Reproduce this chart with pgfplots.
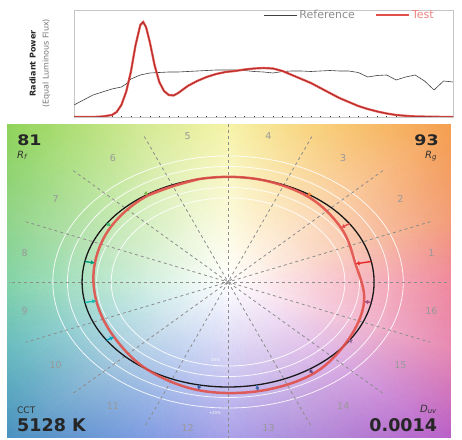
\documentclass[border=0pt]{standalone}
\usepackage{fontspec}
\setmainfont{DejaVu Sans}
\usepackage{pgfplots}
\pgfplotsset{compat=1.18}
\usetikzlibrary{arrows.meta}
\definecolor{testred}{HTML}{E2504A}
\definecolor{testcore}{HTML}{9A2020}
\definecolor{b1}{HTML}{E62828}
\definecolor{b2}{HTML}{E74B4B}
\definecolor{b3}{HTML}{FB812E}
\definecolor{b4}{HTML}{FFB529}
\definecolor{b5}{HTML}{CBCA46}
\definecolor{b6}{HTML}{7EB94C}
\definecolor{b7}{HTML}{41C06D}
\definecolor{b8}{HTML}{009C7C}
\definecolor{b9}{HTML}{16BCB0}
\definecolor{b10}{HTML}{00A4BF}
\definecolor{b11}{HTML}{0085C3}
\definecolor{b12}{HTML}{3B62AA}
\definecolor{b13}{HTML}{4568AE}
\definecolor{b14}{HTML}{6A4E85}
\definecolor{b15}{HTML}{9D69A1}
\definecolor{b16}{HTML}{A74F81}

\pgfplotstableread{
lam v
380 0.12
390 0.17
400 0.22
410 0.25
420 0.28
430 0.30
435 0.33
440 0.38
450 0.42
460 0.44
470 0.445
480 0.45
490 0.45
500 0.455
510 0.46
520 0.465
530 0.47
540 0.47
550 0.47
560 0.465
570 0.455
580 0.45
590 0.44
600 0.455
610 0.46
620 0.46
630 0.455
640 0.46
650 0.465
660 0.46
670 0.46
680 0.445
690 0.40
700 0.415
710 0.42
720 0.37
730 0.40
740 0.42
750 0.36
760 0.27
770 0.36
780 0.35
}\refspd

\pgfplotstableread{
lam v
380 0
400 0
410 0.005
420 0.02
425 0.05
430 0.12
435 0.25
440 0.45
445 0.72
450 0.92
453 0.95
456 0.90
460 0.75
465 0.52
470 0.35
475 0.26
480 0.22
485 0.215
490 0.24
500 0.31
510 0.36
520 0.40
530 0.43
540 0.45
550 0.46
560 0.475
570 0.485
580 0.49
590 0.485
600 0.46
610 0.42
620 0.38
630 0.34
640 0.29
650 0.24
660 0.19
670 0.15
680 0.11
690 0.08
700 0.055
710 0.035
720 0.02
730 0.012
740 0.006
760 0.002
780 0
}\testspd

\begin{document}
\begin{tikzpicture}
\useasboundingbox (0pt,0pt) rectangle (462pt,439pt);

% ---------------- spectrum ----------------
\begin{axis}[
  at={(74pt,322pt)}, anchor=south west,
  scale only axis, width=379pt, height=107pt,
  xmin=380, xmax=780, ymin=0, ymax=1.07,
  xtick={380,390,...,780}, xticklabels={},
  ytick=\empty, xtick pos=left, tick align=center,
  major tick length=2.5pt, tick style={black!80, line width=0.5pt},
  axis line style={gray!45},
  ylabel={\textbf{Radiant Power}\\[4pt]{\color{black!55}(Equal Luminous Flux)}},
  ylabel style={at={(axis description cs:-0.0897,0.5)}, anchor=center,
    align=center, font=\fontsize{8}{9}\selectfont, text=black!85},
  legend style={at={(rel axis cs:0.955,0.953)}, anchor=east, draw=none, fill=none,
    font=\fontsize{11}{11}\selectfont, legend columns=2, inner sep=0pt,
    /tikz/every even column/.append style={column sep=18pt}},
  legend image code/.code={\draw[#1] (0pt,0pt) -- (33pt,0pt);},
]
\addplot[black!75, line width=0.6pt] table[x=lam, y=v] {\refspd};
\addlegendentry{\textcolor{black!45}{Reference}}
\addplot[testred, line width=2.2pt] table[x=lam, y=v] {\testspd};
\addlegendentry{\textcolor{testred!70}{Test}}
\addplot[testcore, line width=0.5pt, forget plot] table[x=lam, y=v] {\testspd};
\draw[black!75, line width=0.6pt] (rel axis cs:0,0) -- (rel axis cs:1,0);
\end{axis}

% ---------------- colour vector graphic ----------------
\begin{axis}[
  at={(7pt,2pt)}, anchor=south west,
  scale only axis, width=443pt, height=312pt,
  xmin=-1.514, xmax=1.52, ymin=-1.476, ymax=1.495,
  axis line style={draw=none}, ticks=none, clip=true,
]
\addplot[patch, patch type=triangle, shader=interp,
  mesh/color input=explicit, point meta=explicit symbolic]
  table[x=x, y=y, meta=c] {
x y c
0 0 rgb=1,1,1
2.3 0 rgb=0.910,0.306,0.427
2.1249 0.8802 rgb=0.933,0.470,0.250
0 0 rgb=1,1,1
2.1249 0.8802 rgb=0.933,0.470,0.250
1.6263 1.6263 rgb=0.957,0.596,0.255
0 0 rgb=1,1,1
1.6263 1.6263 rgb=0.957,0.596,0.255
0.8802 2.1249 rgb=0.961,0.741,0.267
0 0 rgb=1,1,1
0.8802 2.1249 rgb=0.961,0.741,0.267
0 2.3 rgb=0.945,0.929,0.478
0 0 rgb=1,1,1
0 2.3 rgb=0.945,0.929,0.478
-0.8802 2.1249 rgb=0.741,0.875,0.388
0 0 rgb=1,1,1
-0.8802 2.1249 rgb=0.741,0.875,0.388
-1.6263 1.6263 rgb=0.525,0.815,0.298
0 0 rgb=1,1,1
-1.6263 1.6263 rgb=0.525,0.815,0.298
-2.1249 0.8802 rgb=0.388,0.761,0.341
0 0 rgb=1,1,1
-2.1249 0.8802 rgb=0.388,0.761,0.341
-2.3 0 rgb=0.260,0.740,0.480
0 0 rgb=1,1,1
-2.3 0 rgb=0.260,0.740,0.480
-2.1249 -0.8802 rgb=0.170,0.630,0.650
0 0 rgb=1,1,1
-2.1249 -0.8802 rgb=0.170,0.630,0.650
-1.6263 -1.6263 rgb=0.231,0.529,0.733
0 0 rgb=1,1,1
-1.6263 -1.6263 rgb=0.231,0.529,0.733
-0.8802 -2.1249 rgb=0.267,0.443,0.827
0 0 rgb=1,1,1
-0.8802 -2.1249 rgb=0.267,0.443,0.827
0 -2.3 rgb=0.475,0.427,0.863
0 0 rgb=1,1,1
0 -2.3 rgb=0.475,0.427,0.863
0.8802 -2.1249 rgb=0.565,0.341,0.784
0 0 rgb=1,1,1
0.8802 -2.1249 rgb=0.565,0.341,0.784
1.6263 -1.6263 rgb=0.698,0.325,0.767
0 0 rgb=1,1,1
1.6263 -1.6263 rgb=0.698,0.325,0.767
2.1249 -0.8802 rgb=0.870,0.360,0.580
0 0 rgb=1,1,1
2.1249 -0.8802 rgb=0.870,0.360,0.580
2.3 0 rgb=0.910,0.306,0.427
};

% white guide circles
\draw[white, opacity=0.85, line width=0.8pt] (axis cs:0,0) ellipse [x radius=0.8, y radius=0.8];
\draw[white, opacity=0.85, line width=0.8pt] (axis cs:0,0) ellipse [x radius=0.9, y radius=0.9];
\draw[white, opacity=0.85, line width=0.8pt] (axis cs:0,0) ellipse [x radius=1.1, y radius=1.1];
\draw[white, opacity=0.85, line width=0.8pt] (axis cs:0,0) ellipse [x radius=1.2, y radius=1.2];
% dashed hue-bin boundaries
\addplot[black!45, dashed, line width=0.8pt] coordinates {(1.5,0) (-1.5,0)};
\addplot[black!45, dashed, line width=0.8pt] coordinates {(1.3858,0.5740) (-1.3858,-0.5740)};
\addplot[black!45, dashed, line width=0.8pt] coordinates {(1.0607,1.0607) (-1.0607,-1.0607)};
\addplot[black!45, dashed, line width=0.8pt] coordinates {(0.5740,1.3858) (-0.5740,-1.3858)};
\addplot[black!45, dashed, line width=0.8pt] coordinates {(0,1.5) (0,-1.5)};
\addplot[black!45, dashed, line width=0.8pt] coordinates {(-0.5740,1.3858) (0.5740,-1.3858)};
\addplot[black!45, dashed, line width=0.8pt] coordinates {(-1.0607,1.0607) (1.0607,-1.0607)};
\addplot[black!45, dashed, line width=0.8pt] coordinates {(-1.3858,0.5740) (1.3858,-0.5740)};

% reference circle
\draw[black!90, line width=1.3pt] (axis cs:0,0) ellipse [x radius=1, y radius=1];

% test gamut
\addplot[testred, opacity=0.9, line width=2.5pt, smooth, tension=0.6] coordinates {
(-0.1951,0.9808) (-0.5500,0.8232) (-0.7982,0.5333) (-0.9121,0.1814)
(-0.9023,-0.1795) (-0.7816,-0.5222) (-0.5556,-0.8315) (-0.2048,-1.0298)
(0.2068,-1.0396) (0.5833,-0.8730) (0.8232,-0.5500) (0.9318,-0.1853)
(0.8729,0.1736) (0.7733,0.5167) (0.5445,0.8148) (0.1951,0.9808)
(-0.1951,0.9808) (-0.5500,0.8232)
};

% arrows reference -> test
\pgfplotsset{arr/.style={line width=1.4pt, -{Latex[length=4pt,width=4.5pt]}}}
\addplot[b1, arr] coordinates {(0.98079,0.19509) (0.8729,0.1736)};
\addplot[b2, arr] coordinates {(0.83147,0.55557) (0.7733,0.5167)};
\addplot[b3, arr] coordinates {(0.55557,0.83147) (0.5445,0.8148)};
\addplot[b6, arr] coordinates {(-0.55557,0.83147) (-0.5500,0.8232)};
\addplot[b7, arr] coordinates {(-0.83147,0.55557) (-0.7982,0.5333)};
\addplot[b8, arr] coordinates {(-0.98079,0.19509) (-0.9121,0.1814)};
\addplot[b9, arr] coordinates {(-0.98079,-0.19509) (-0.9023,-0.1795)};
\addplot[b10, arr] coordinates {(-0.83147,-0.55557) (-0.7816,-0.5222)};
\addplot[b12, arr] coordinates {(-0.19509,-0.98079) (-0.2048,-1.0298)};
\addplot[b13, arr] coordinates {(0.19509,-0.98079) (0.2068,-1.0396)};
\addplot[b14, arr] coordinates {(0.55557,-0.83147) (0.5833,-0.8730)};
\addplot[b15, arr] coordinates {(0.83147,-0.55557) (0.8232,-0.5500)};
\addplot[b16, arr] coordinates {(0.98079,-0.19509) (0.9318,-0.1853)};

% bin numbers
\begin{scope}[every node/.style={text=black!40, font=\fontsize{9.5}{10}\selectfont, inner sep=0pt}]
\node at (axis cs:1.3927,0.2770) {1};
\node at (axis cs:1.1807,0.7889) {2};
\node at (axis cs:0.7889,1.1807) {3};
\node at (axis cs:0.2770,1.3927) {4};
\node at (axis cs:-0.2770,1.3927) {5};
\node at (axis cs:-0.7889,1.1807) {6};
\node at (axis cs:-1.1807,0.7889) {7};
\node at (axis cs:-1.3927,0.2770) {8};
\node at (axis cs:-1.3927,-0.2770) {9};
\node at (axis cs:-1.1807,-0.7889) {10};
\node at (axis cs:-0.7889,-1.1807) {11};
\node at (axis cs:-0.2770,-1.3927) {12};
\node at (axis cs:0.2770,-1.3927) {13};
\node at (axis cs:0.7889,-1.1807) {14};
\node at (axis cs:1.1807,-0.7889) {15};
\node at (axis cs:1.3927,-0.2770) {16};
\end{scope}
\node[text=white, font=\fontsize{4}{4}\selectfont] at (axis cs:-0.09,-0.74) {-20\%};
\node[text=white, font=\fontsize{4}{4}\selectfont] at (axis cs:-0.09,-1.25) {+20\%};

% corner values
\node[anchor=north west, inner sep=0pt, xscale=1.2, text=black!85, font=\fontsize{14.5}{14.5}\selectfont\bfseries] at (rel axis cs:0.0226,0.968) {81};
\node[anchor=north west, inner sep=0pt, text=black!80, font=\fontsize{10}{10}\selectfont] at (rel axis cs:0.0226,0.918) {\textit{R}\textsubscript{\textit{f}}};
\node[anchor=north east, inner sep=0pt, xscale=1.2, text=black!85, font=\fontsize{14.5}{14.5}\selectfont\bfseries] at (rel axis cs:0.975,0.968) {93};
\node[anchor=north east, inner sep=0pt, text=black!80, font=\fontsize{10}{10}\selectfont] at (rel axis cs:0.971,0.918) {\textit{R}\textsubscript{\textit{g}}};
\node[anchor=north west, inner sep=0pt, text=black!80, font=\fontsize{9}{9}\selectfont] at (rel axis cs:0.0226,0.096) {CCT};
\node[anchor=north west, inner sep=0pt, text=black!85, font=\fontsize{17.5}{17.5}\selectfont\bfseries] at (rel axis cs:0.0226,0.061) {5128 K};
\node[anchor=north east, inner sep=0pt, text=black!80, font=\fontsize{10}{10}\selectfont] at (rel axis cs:0.971,0.103) {\textit{D}\textsubscript{\textit{uv}}};
\node[anchor=north east, inner sep=0pt, text=black!85, font=\fontsize{17.5}{17.5}\selectfont\bfseries] at (rel axis cs:0.971,0.061) {0.0014};
\end{axis}
\end{tikzpicture}
\end{document}
